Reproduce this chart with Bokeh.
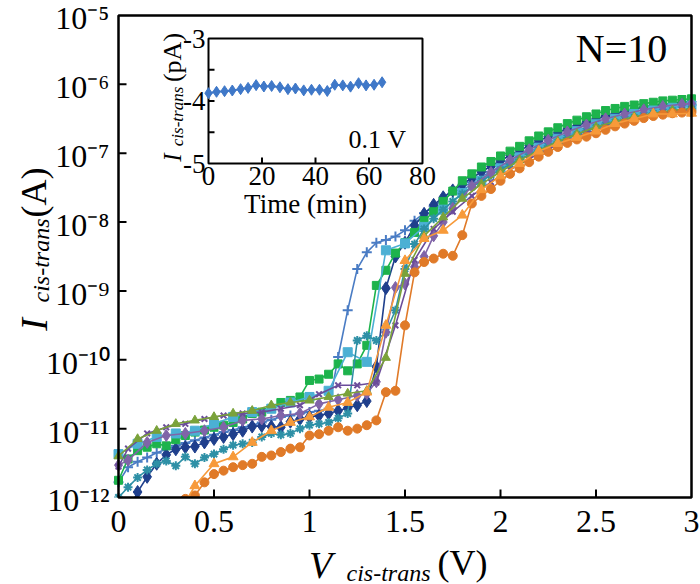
import math
from bokeh.plotting import figure
from bokeh.models import Range1d, Label, LinearScale, LogScale
from bokeh.core.properties import value
from bokeh.embed import file_html
from bokeh.resources import INLINE

SERIF = "Liberation Serif"

# ---------------- data (log10 of current in A) ----------------
v_005 = [0.00, 0.05, 0.10, 0.15, 0.20, 0.25, 0.30, 0.35, 0.40, 0.45,
         0.50, 0.55, 0.60, 0.65, 0.70, 0.75, 0.80, 0.85, 0.90, 0.95,
         1.00, 1.05, 1.10, 1.15, 1.20, 1.25, 1.30, 1.35, 1.40, 1.45,
         1.50, 1.55, 1.60, 1.65, 1.70, 1.75, 1.80, 1.85, 1.90, 1.95,
         2.00, 2.05, 2.10, 2.15, 2.20, 2.25, 2.30, 2.35, 2.40, 2.45,
         2.50, 2.55, 2.60, 2.65, 2.70, 2.75, 2.80, 2.85, 2.90, 2.95, 3.00]
v_01 = [0.0, 0.1, 0.2, 0.3, 0.4, 0.5, 0.6, 0.7, 0.8, 0.9,
        1.0, 1.1, 1.2, 1.3, 1.4, 1.5, 1.6, 1.7, 1.8, 1.9,
        2.0, 2.1, 2.2, 2.3, 2.4, 2.5, 2.6, 2.7, 2.8, 2.9, 3.0]

blue_plus_v = v_005
blue_plus_log = [-11.78, -11.56, -11.48, -11.42, -11.35, -11.30, -11.25, -11.21, -11.17, -11.13,
                 -11.09, -11.05, -11.02, -10.98, -10.95, -10.91, -10.87, -10.83, -10.81, -10.78,
                 -10.76, -10.74, -10.71, -9.96, -9.28, -8.68, -8.44, -8.30, -8.26, -8.21,
                 -8.12, -7.98, -7.87, -7.77, -7.67, -7.58, -7.50, -7.42, -7.34, -7.27,
                 -7.19, -7.12, -7.05, -6.98, -6.92, -6.86, -6.80, -6.74, -6.69, -6.64,
                 -6.59, -6.55, -6.51, -6.47, -6.44, -6.41, -6.38, -6.36, -6.34, -6.32, -6.30]

navy_diamond_v = v_005[1:]
navy_diamond_log = [-12.20, -11.92, -11.70, -11.51, -11.38, -11.30, -11.27, -11.26, -11.20, -11.15,
                    -11.12, -11.08, -11.03, -10.97, -10.96, -10.97, -10.98, -10.90, -10.86, -10.83,
                    -10.81, -10.78, -10.74, -10.70, -10.66, -10.60, -10.10, -8.96, -8.50, -8.30,
                    -8.05, -7.88, -7.75, -7.64, -7.54, -7.45, -7.36, -7.27, -7.19, -7.11,
                    -7.03, -6.96, -6.89, -6.82, -6.76, -6.70, -6.65, -6.60, -6.55, -6.50,
                    -6.46, -6.42, -6.39, -6.36, -6.33, -6.31, -6.29, -6.28, -6.26, -6.25]

green_square_v = v_005
green_square_log = [-11.75, -11.44, -11.32, -11.27, -11.22, -11.25, -11.16, -11.10, -11.05, -11.02,
                    -10.98, -10.95, -10.91, -10.86, -10.78, -10.76, -10.71, -10.62, -10.59, -10.54,
                    -10.30, -10.28, -10.21, -10.06, -10.16, -10.06, -9.79, -8.92, -8.70, -8.45,
                    -8.30, -8.15, -7.98, -7.85, -7.70, -7.55, -7.40, -7.30, -7.20, -7.12,
                    -7.04, -6.97, -6.90, -6.82, -6.75, -6.69, -6.63, -6.57, -6.52, -6.47,
                    -6.43, -6.38, -6.35, -6.32, -6.30, -6.28, -6.26, -6.24, -6.23, -6.22, -6.21]

lightblue_square_v = v_01
lightblue_square_log = [-11.37, -11.22, -11.12, -11.07, -11.03, -10.93, -10.83, -10.76, -10.71, -10.62,
                        -10.54, -10.45, -9.89, -10.03, -8.41, -8.31, -8.07, -7.82, -7.58, -7.40,
                        -7.22, -7.06, -6.92, -6.79, -6.68, -6.58, -6.50, -6.43, -6.38, -6.34, -6.31]

teal_star_v = v_005
teal_star_log = [-12.00, -11.85, -11.71, -11.60, -11.51, -11.47, -11.54, -11.41, -11.51, -11.42,
                 -11.37, -11.30, -11.24, -11.22, -11.20, -11.12, -11.07, -11.09, -11.07, -11.00,
                 -10.95, -10.93, -10.91, -10.85, -10.78, -9.72, -9.65, -9.72, -9.60, -9.28,
                 -8.68, -8.32, -8.10, -7.95, -7.82, -7.70, -7.59, -7.49, -7.40, -7.32,
                 -7.24, -7.16, -7.09, -7.02, -6.96, -6.90, -6.84, -6.78, -6.73, -6.68,
                 -6.63, -6.59, -6.55, -6.51, -6.48, -6.45, -6.42, -6.40, -6.38, -6.37, -6.36]

purple_diamond_v = [0.00, 0.05, 0.15, 0.25, 0.35, 0.45, 0.55, 0.65, 0.75, 0.85,
                    0.95, 1.05, 1.15, 1.25, 1.30, 1.35, 1.40, 1.45, 1.50, 1.55,
                    1.60, 1.65, 1.70, 1.75, 1.85, 1.95, 2.05, 2.15, 2.25, 2.35,
                    2.45, 2.55, 2.65, 2.75, 2.85, 2.95, 3.00]
purple_diamond_log = [-11.53, -11.46, -11.20, -11.10, -11.07, -11.03, -10.98, -10.88, -10.86, -10.81,
                      -10.78, -10.64, -10.58, -10.52, -10.49, -10.32, -9.60, -8.95, -8.90, -8.65,
                      -8.50, -8.20, -8.00, -7.80, -7.48, -7.28, -7.10, -6.95, -6.81, -6.69,
                      -6.59, -6.50, -6.43, -6.37, -6.32, -6.29, -6.28]

purple_x_v = [0.00, 0.05, 0.15, 0.25, 0.35, 0.45, 0.55, 0.65, 0.75, 0.85,
              0.95, 1.05, 1.15, 1.25, 1.35, 1.45, 1.55, 1.65, 1.75, 1.85,
              1.95, 2.05, 2.15, 2.25, 2.35, 2.45, 2.55, 2.65, 2.75, 2.85, 2.95, 3.00]
purple_x_log = [-11.55, -11.29, -11.07, -10.98, -10.93, -10.86, -10.81, -10.78, -10.76, -10.71,
                -10.66, -10.50, -10.37, -10.37, -10.33, -9.50, -8.55, -8.10, -7.85, -7.62,
                -7.42, -7.24, -7.08, -6.94, -6.82, -6.71, -6.62, -6.54, -6.47, -6.42, -6.38, -6.36]

olive_triangle_v = v_01
olive_triangle_log = [-11.40, -11.15, -11.03, -10.93, -10.88, -10.83, -10.78, -10.74, -10.66, -10.62,
                      -10.59, -10.54, -10.49, -10.45, -9.97, -8.75, -8.20, -7.93, -7.66, -7.45,
                      -7.27, -7.10, -6.96, -6.83, -6.72, -6.62, -6.54, -6.47, -6.42, -6.38, -6.35]

orange_circle_v = v_005[6:]
orange_circle_log = [-12.15, -12.02, -11.97, -11.78, -11.66, -11.61, -11.56, -11.53, -11.51, -11.41,
                     -11.39, -11.34, -11.29, -11.27, -11.10, -11.08, -11.03, -10.98, -11.03, -11.00,
                     -10.95, -10.88, -10.47, -10.45, -9.50, -8.73, -8.58, -8.53, -8.46, -8.49,
                     -8.19, -7.73, -7.62, -7.52, -7.40, -7.30, -7.22, -7.13, -7.05, -6.98,
                     -6.91, -6.85, -6.80, -6.76, -6.71, -6.66, -6.61, -6.57, -6.53, -6.49,
                     -6.46, -6.44, -6.42, -6.41, -6.40]

orange_triangle_v = v_01[3:]
orange_triangle_log = [-12.30, -11.83, -11.51, -11.41, -11.20, -11.03, -10.91, -10.83, -10.69, -10.62,
                       -10.47, -9.50, -8.56, -8.24, -8.12, -7.90, -7.53, -7.33, -7.15, -6.97,
                       -6.86, -6.77, -6.68, -6.57, -6.50, -6.43, -6.43, -6.42]

# inset: current at 0.1 V versus time
inset_time = [0, 3, 6, 8.9, 12, 14.8, 17.8, 20.7, 23.6, 26.7, 29.7, 32.5,
              35.6, 38.5, 41.5, 44.4, 47.2, 50.2, 53.1, 56.1, 58.9, 61.9, 64.9]
inset_current = [-3.875, -3.853, -3.843, -3.832, -3.81, -3.79, -3.746, -3.768, -3.76, -3.78, -3.81, -3.80,
                 -3.83, -3.82, -3.82, -3.84, -3.74, -3.75, -3.77, -3.715, -3.75, -3.74, -3.70]

# ticks
x_ticks = [0, 0.5, 1, 1.5, 2, 2.5, 3]
x_tick_labels = ["0", "0.5", "1", "1.5", "2", "2.5", "3"]
y_ticks = [1e-12, 1e-11, 1e-10, 1e-9, 1e-8, 1e-7, 1e-6, 1e-5]
y_tick_labels = ["10⁻¹²", "10⁻¹¹", "10⁻¹⁰", "10⁻⁹", "10⁻⁸", "10⁻⁷", "10⁻⁶", "10⁻⁵"]
inset_x_ticks = [0, 20, 40, 60, 80]
inset_x_labels = ["0", "20", "40", "60", "80"]
inset_y_ticks = [-5, -4.5, -4, -3.5, -3]
inset_y_label_vals = [-5, -4, -3]
inset_y_labels = ["-5", "-4", "-3"]

series = [
    (blue_plus_v, blue_plus_log, "#4A7CC4", "cross", 10),
    (navy_diamond_v, navy_diamond_log, "#1F3F8C", "diamond", 13),
    (green_square_v, green_square_log, "#1DB34C", "square", 8),
    (lightblue_square_v, lightblue_square_log, "#4BB0D4", "square", 9),
    (teal_star_v, teal_star_log, "#2E90A6", "asterisk", 9),
    (purple_diamond_v, purple_diamond_log, "#8064A8", "diamond", 12),
    (purple_x_v, purple_x_log, "#6B4C9A", "x", 8),
    (olive_triangle_v, olive_triangle_log, "#7AA23A", "triangle", 9),
    (orange_circle_v, orange_circle_log, "#E07A28", "circle", 9),
    (orange_triangle_v, orange_triangle_log, "#F79A3A", "triangle", 10),
]

# ---------------- figure: frame covers the whole canvas ----------------
W, H = 700, 584
p = figure(width=W, height=H, output_backend="svg", toolbar_location=None,
           x_range=Range1d(0, W), y_range=Range1d(0, H),
           x_axis_location=None, y_axis_location=None, min_border=0)
p.background_fill_color = "white"
p.border_fill_color = "white"
p.outline_line_color = None
p.xgrid.visible = False
p.ygrid.visible = False

# main plot area: V 0..3 at canvas x 118..691, I 1e-12..1e-5 at canvas y 497..15
MX0, MX1 = -0.617801, 3.047120
MY0, MY1 = 10 ** -13.26349, 10 ** -4.78216
p.extra_x_ranges = {"mx": Range1d(MX0, MX1), "ix": Range1d(-77.757, 183.925)}
p.extra_y_ranges = {"my": Range1d(MY0, MY1), "iy": Range1d(-11.736, -2.392)}
p.extra_x_scales = {"mx": LinearScale(), "ix": LinearScale()}
p.extra_y_scales = {"my": LogScale(), "iy": LinearScale()}
MR = dict(x_range_name="mx", y_range_name="my")
IR = dict(x_range_name="ix", y_range_name="iy")

for vs, ls, col, mk, sz in series:
    amps = [10 ** l for l in ls]
    p.line(vs, amps, line_color=col, line_width=1.6, **MR)
    if mk in ("cross", "x", "asterisk"):
        p.scatter(vs, amps, marker=mk, size=sz, line_color=col, line_width=2, **MR)
    else:
        p.scatter(vs, amps, marker=mk, size=sz, fill_color=col, line_color=col, **MR)

# white mask below the plot area (acts as the frame clip)
p.quad(left=[MX0], right=[MX1], bottom=[MY0], top=[y_ticks[0]],
       fill_color="white", line_color=None, **MR)

# main box, ticks and tick labels
p.quad(left=[x_ticks[0]], right=[x_ticks[-1]], bottom=[y_ticks[0]], top=[y_ticks[-1]],
       fill_color=None, line_color="black", line_width=2.5, **MR)
p.ray(x=x_ticks[1:-1], y=[y_ticks[0]] * (len(x_ticks) - 2), length=8, length_units="screen",
      angle=math.pi / 2, line_color="black", line_width=2, **MR)
p.ray(x=[x_ticks[0]] * (len(y_ticks) - 2), y=y_ticks[1:-1], length=8, length_units="screen",
      angle=0, line_color="black", line_width=2, **MR)
p.text(x=x_ticks, y=[y_ticks[0]] * len(x_ticks), text=x_tick_labels,
       text_align="center", text_baseline="top", y_offset=14,
       text_font=value(SERIF), text_font_size="32px", text_color="black", **MR)
p.text(x=[x_ticks[0]] * len(y_ticks), y=y_ticks, text=y_tick_labels,
       text_align="right", text_baseline="middle", x_offset=-9, y_offset=3,
       text_font=value(SERIF), text_font_size="32px", text_color="black", **MR)

# ---------------- inset ----------------
p.quad(left=[inset_x_ticks[0]], right=[inset_x_ticks[-1]], bottom=[inset_y_ticks[0]], top=[inset_y_ticks[-1]],
       fill_color="white", line_color="black", line_width=2, **IR)
p.ray(x=inset_x_ticks[1:-1], y=[inset_y_ticks[0]] * 3, length=6, length_units="screen",
      angle=math.pi / 2, line_color="black", line_width=2, **IR)
p.ray(x=[inset_x_ticks[0]] * 3, y=inset_y_ticks[1:-1], length=6, length_units="screen",
      angle=0, line_color="black", line_width=2, **IR)
p.text(x=inset_x_ticks, y=[inset_y_ticks[0]] * len(inset_x_ticks), text=inset_x_labels,
       text_align="center", text_baseline="top", y_offset=3,
       text_font=value(SERIF), text_font_size="27px", text_color="black", **IR)
p.text(x=[inset_x_ticks[0]] * len(inset_y_label_vals), y=inset_y_label_vals, text=inset_y_labels,
       text_align="right", text_baseline="middle", x_offset=-3,
       text_font=value(SERIF), text_font_size="27px", text_color="black", **IR)
p.line(inset_time, inset_current, line_color="#3F78C8", line_width=2, **IR)
p.scatter(inset_time, inset_current, marker="diamond", size=11, fill_color="#3F78C8",
          line_color="#3F78C8", **IR)

# ---------------- titles (screen units: x from left, y from bottom of canvas) ----------------
def lab(x, y, text, size, italic=False, angle=0.0):
    p.add_layout(Label(x=x, y=y, x_units="screen", y_units="screen", text=text, angle=angle,
                       text_align="center", text_baseline="middle", text_font=SERIF,
                       text_font_size=size, text_font_style="italic" if italic else "normal",
                       text_color="black"))

up = math.pi / 2
# main y title
lab(33, 260, "I", "38px", True, up)
lab(40, 324, "cis-trans", "24px", True, up)
lab(33, 392, "(A)", "36px", False, up)
# main x title
lab(320, 20, "V", "38px", True)
lab(388, 12, "cis-trans", "24px", True)
lab(462, 22, "(V)", "36px", False)
# N=10
lab(621, 536, "N=10", "40px")
# inset titles
lab(172, 427, "I", "25px", True, up)
lab(177, 468, "cis-trans", "17px", True, up)
lab(172, 527, "(pA)", "26px", False, up)
lab(305, 381, "Time (min)", "27px")
lab(377, 445, "0.1 V", "26px")

open("out.html", "w").write(file_html(p, INLINE))
